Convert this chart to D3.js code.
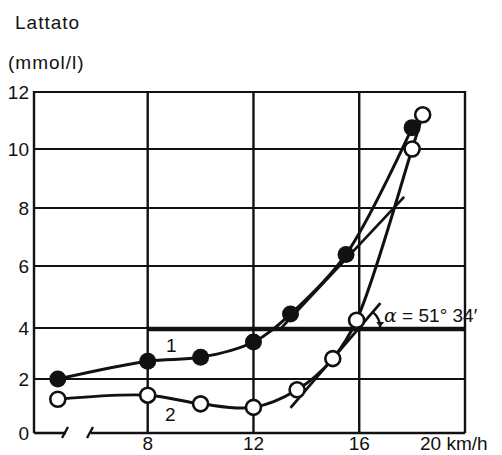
<!DOCTYPE html>
<html>
<head>
<meta charset="utf-8">
<script src="https://cdn.jsdelivr.net/npm/d3@7"></script>
<style>
  body { margin: 0; background: #fff; }
  svg { display: block; }
  text { font-family: "Liberation Sans", Arial, sans-serif; fill: #111; }
</style>
</head>
<body>
<div id="chart"></div>
<script>
// data
const yTicks = [0, 2, 4, 6, 8, 10, 12];
const xTicks = [8, 12, 16];
const xLast = "20 km/h";

// curve 1 (filled dots)
const speed1 = [4.6, 8, 10, 12, 13.4, 15.5, 18];
const lact1 = [2.0, 2.7, 2.85, 3.45, 4.45, 6.4, 10.75];
// curve 2 (open dots)
const speed2 = [4.6, 8, 10, 12, 13.65, 15, 15.9, 18, 18.4];
const lact2 = [1.25, 1.4, 1.08, 0.95, 1.6, 2.8, 4.25, 10.0, 11.2];

const threshold = 4;
const lineB = [[13.05, 4.0], [17.7, 8.38]];
const tangent = [[13.4, 0.93], [16.8, 4.8]];
const angleLabel = " = 51\u00b0 34\u2032";

const width = 502, height = 455;

const svg = d3.select("#chart").append("svg")
  .attr("width", width)
  .attr("height", height);

const x = d3.scaleLinear().domain([3.7, 20]).range([34, 465]);
// the scanned grid is not evenly spaced, follow the printed lines
const y = d3.scaleLinear().domain(yTicks).range([433, 379, 328, 266, 208, 149, 92]);

const ink = "#111";

// horizontal grid
svg.append("g").selectAll("line")
  .data(yTicks.filter(d => d > 0))
  .join("line")
  .attr("x1", x(3.7)).attr("x2", x(20))
  .attr("y1", d => y(d)).attr("y2", d => y(d))
  .attr("stroke", ink).attr("stroke-width", 2.2);

// vertical grid + borders
svg.append("g").selectAll("line")
  .data([3.7].concat(xTicks, [20]))
  .join("line")
  .attr("x1", d => x(d)).attr("x2", d => x(d))
  .attr("y1", y(12) - 1).attr("y2", y(0))
  .attr("stroke", ink).attr("stroke-width", 2.4);

// bottom axis with break
svg.append("line")
  .attr("x1", x(3.7)).attr("x2", x(3.7) + 32)
  .attr("y1", y(0)).attr("y2", y(0))
  .attr("stroke", ink).attr("stroke-width", 2.6);
svg.append("line")
  .attr("x1", x(3.7) + 57).attr("x2", x(20))
  .attr("y1", y(0)).attr("y2", y(0))
  .attr("stroke", ink).attr("stroke-width", 2.6);
[31, 56].forEach(off => {
  svg.append("line")
    .attr("x1", x(3.7) + off - 3).attr("y1", y(0) + 5)
    .attr("x2", x(3.7) + off + 3).attr("y2", y(0) - 6)
    .attr("stroke", ink).attr("stroke-width", 2.4);
});

// threshold at 4 mmol/l
svg.append("line")
  .attr("x1", x(8)).attr("x2", x(20))
  .attr("y1", y(threshold) + 1).attr("y2", y(threshold) + 1)
  .attr("stroke", ink).attr("stroke-width", 4.5);

const curve = d3.line()
  .x(d => x(d[0]))
  .y(d => y(d[1]))
  .curve(d3.curveCatmullRom.alpha(0.5));

const pts1 = speed1.map((s, i) => [s, lact1[i]]);
const pts2 = speed2.map((s, i) => [s, lact2[i]]);

svg.append("path").datum(pts1)
  .attr("d", curve).attr("fill", "none")
  .attr("stroke", ink).attr("stroke-width", 3);
svg.append("path").datum(pts2)
  .attr("d", curve).attr("fill", "none")
  .attr("stroke", ink).attr("stroke-width", 3);

const straight = d3.line().x(d => x(d[0])).y(d => y(d[1]));
svg.append("path").datum(lineB)
  .attr("d", straight).attr("fill", "none")
  .attr("stroke", ink).attr("stroke-width", 2.6);
svg.append("path").datum(tangent)
  .attr("d", straight).attr("fill", "none")
  .attr("stroke", ink).attr("stroke-width", 2.8);

// angle arc
const cx = x(16), cy = y(threshold);
const ang = Math.atan2(y(tangent[0][1]) - y(tangent[1][1]), x(tangent[1][0]) - x(tangent[0][0]));
const r = 21;
svg.append("path")
  .attr("d", d3.arc()({ innerRadius: r, outerRadius: r, startAngle: Math.PI / 2 - ang, endAngle: Math.PI / 2 }))
  .attr("transform", `translate(${cx},${cy})`)
  .attr("fill", "none").attr("stroke", ink).attr("stroke-width", 2.4);
svg.append("path")
  .attr("d", `M${cx + r - 4},${cy - 6} L${cx + r + 4},${cy - 6} L${cx + r},${cy - 1} Z`)
  .attr("fill", ink);

// dots
svg.append("g").selectAll("circle")
  .data(pts2)
  .join("circle")
  .attr("cx", d => x(d[0])).attr("cy", d => y(d[1]))
  .attr("r", 7.5)
  .attr("fill", "#fff").attr("stroke", ink).attr("stroke-width", 2.6);
svg.append("g").selectAll("circle")
  .data(pts1)
  .join("circle")
  .attr("cx", d => x(d[0])).attr("cy", d => y(d[1]))
  .attr("r", 8.5)
  .attr("fill", ink);

// y labels
svg.append("g").selectAll("text")
  .data(yTicks)
  .join("text")
  .attr("x", 29).attr("y", d => y(d))
  .attr("dy", "0.36em")
  .attr("text-anchor", "end")
  .attr("font-size", 19)
  .text(d => d);

// x labels
svg.append("g").selectAll("text")
  .data(xTicks)
  .join("text")
  .attr("x", d => x(d)).attr("y", 450)
  .attr("text-anchor", "middle")
  .attr("font-size", 19)
  .text(d => d);
svg.append("text")
  .attr("x", 420).attr("y", 450)
  .attr("font-size", 19)
  .text(xLast);

// titles
svg.append("text").attr("x", 15).attr("y", 29)
  .attr("font-size", 19).attr("letter-spacing", 1).text("Lattato");
svg.append("text").attr("x", 8).attr("y", 69)
  .attr("font-size", 19).attr("letter-spacing", 1).text("(mmol/l)");

// curve numbers
svg.append("text").attr("x", 166).attr("y", 352).attr("font-size", 19).text("1");
svg.append("text").attr("x", 165).attr("y", 421).attr("font-size", 19).text("2");

// angle label
const lab = svg.append("text").attr("x", 384).attr("y", 322).attr("font-size", 19);
lab.append("tspan").attr("font-style", "italic").attr("font-family", "DejaVu Serif, serif").text("\u03b1");
lab.append("tspan").text(angleLabel);
</script>
</body>
</html>
